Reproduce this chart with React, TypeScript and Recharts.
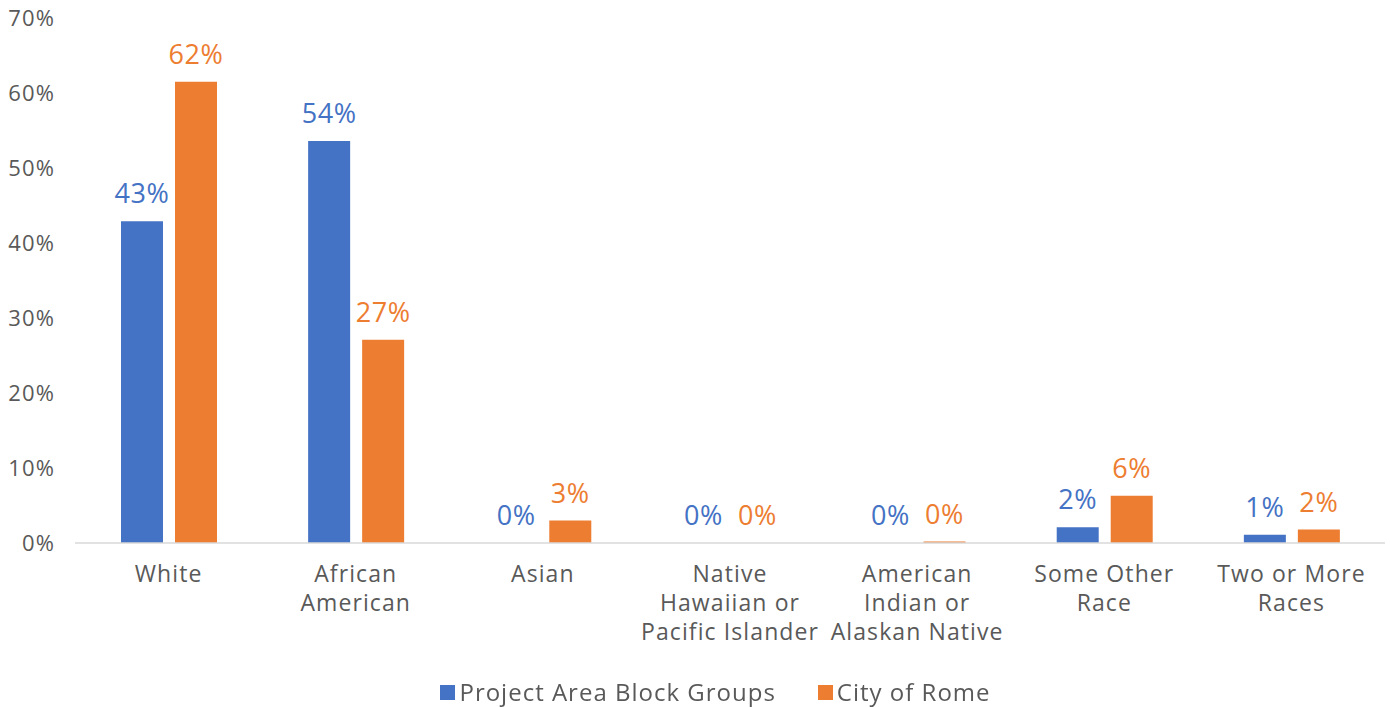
import { BarChart, Bar, XAxis, YAxis, CartesianGrid, LabelList, Legend } from "recharts";

const categories = [
  "White",
  "African American",
  "Asian",
  "Native Hawaiian or Pacific Islander",
  "American Indian or Alaskan Native",
  "Some Other Race",
  "Two or More Races",
];

// label lines as Excel wraps them
const categoryLines: Record<string, string[]> = {
  "White": ["White"],
  "African American": ["African", "American"],
  "Asian": ["Asian"],
  "Native Hawaiian or Pacific Islander": ["Native", "Hawaiian or", "Pacific Islander"],
  "American Indian or Alaskan Native": ["American", "Indian or", "Alaskan Native"],
  "Some Other Race": ["Some Other", "Race"],
  "Two or More Races": ["Two or More", "Races"],
};

const projectArea = [42.9, 53.6, 0, 0, 0, 2.1, 1.1];
const cityOfRome = [61.5, 27.1, 3.0, 0, 0.2, 6.3, 1.8];

const yTicks = [0, 10, 20, 30, 40, 50, 60, 70];

const BLUE = "#4472C4";
const ORANGE = "#ED7D31";
const GREY = "#595959";
const FONT = "'Open Sans', sans-serif";

const data = categories.map((c, i) => ({
  name: c,
  project: projectArea[i],
  rome: cityOfRome[i],
}));

const CategoryTick = (props: any) => {
  const { x, y, payload } = props;
  const lines = categoryLines[payload.value] || [payload.value];
  return (
    <g transform={`translate(${x},${y})`}>
      {lines.map((l, i) => (
        <text key={i} x={0} y={i * 29 + 31} textAnchor="middle" fill={GREY} fontSize={23} letterSpacing={1.1} fontFamily={FONT}>
          {l}
        </text>
      ))}
    </g>
  );
};

const LegendContent = () => (
  <div style={{ display: "flex", justifyContent: "center", paddingLeft: 46, fontFamily: FONT, fontSize: 24, letterSpacing: 1, color: GREY, height: 30, lineHeight: "30px" }}>
    <span style={{ display: "flex", alignItems: "center", marginRight: 42 }}>
      <span style={{ width: 15, height: 15, background: BLUE, display: "inline-block", marginRight: 4 }} />
      Project Area Block Groups
    </span>
    <span style={{ display: "flex", alignItems: "center" }}>
      <span style={{ width: 15, height: 15, background: ORANGE, display: "inline-block", marginRight: 4 }} />
      City of Rome
    </span>
  </div>
);

const makeLabel = (color: string) => (p: any) => {
  const { x, y, width, value } = p;
  return (
    <text
      x={Number(x) + Number(width) / 2}
      y={Number(y) - 18}
      textAnchor="middle"
      fill={color}
      fontSize={27}
      fontWeight={500}
      letterSpacing={0.6}
      fontFamily={FONT}
    >
      {`${Math.round(Number(value))}%`}
    </text>
  );
};

export default function App() {
  return (
    <div style={{ position: "fixed", left: 0, top: 0, width: 1390, height: 707, background: "#fff" }}>
      <BarChart
        width={1390}
        height={707}
        data={data}
        margin={{ top: 18, right: 5, left: 0, bottom: 0 }}
        barSize={42}
        barGap={12}
      >
        <CartesianGrid horizontal={false} vertical={false} />
        <XAxis
          dataKey="name"
          tick={<CategoryTick />}
          tickLine={false}
          axisLine={{ stroke: "#D9D9D9", strokeWidth: 1.5 }}
          interval={0}
          height={134}
        />
        <YAxis
          width={75}
          domain={[0, 70]}
          ticks={yTicks}
          tickFormatter={(v: number) => `${v}%`}
          axisLine={false}
          tickLine={false}
          tickMargin={14}
          tick={{ fill: GREY, fontSize: 22, letterSpacing: 1.1, fontFamily: FONT }}
        />
        <Legend verticalAlign="bottom" height={30} content={<LegendContent />} />
        <Bar dataKey="project" fill={BLUE} minPointSize={0.01} isAnimationActive={false}>
          <LabelList dataKey="project" content={makeLabel(BLUE)} />
        </Bar>
        <Bar dataKey="rome" fill={ORANGE} minPointSize={0.01} isAnimationActive={false}>
          <LabelList dataKey="rome" content={makeLabel(ORANGE)} />
        </Bar>
      </BarChart>
    </div>
  );
}
